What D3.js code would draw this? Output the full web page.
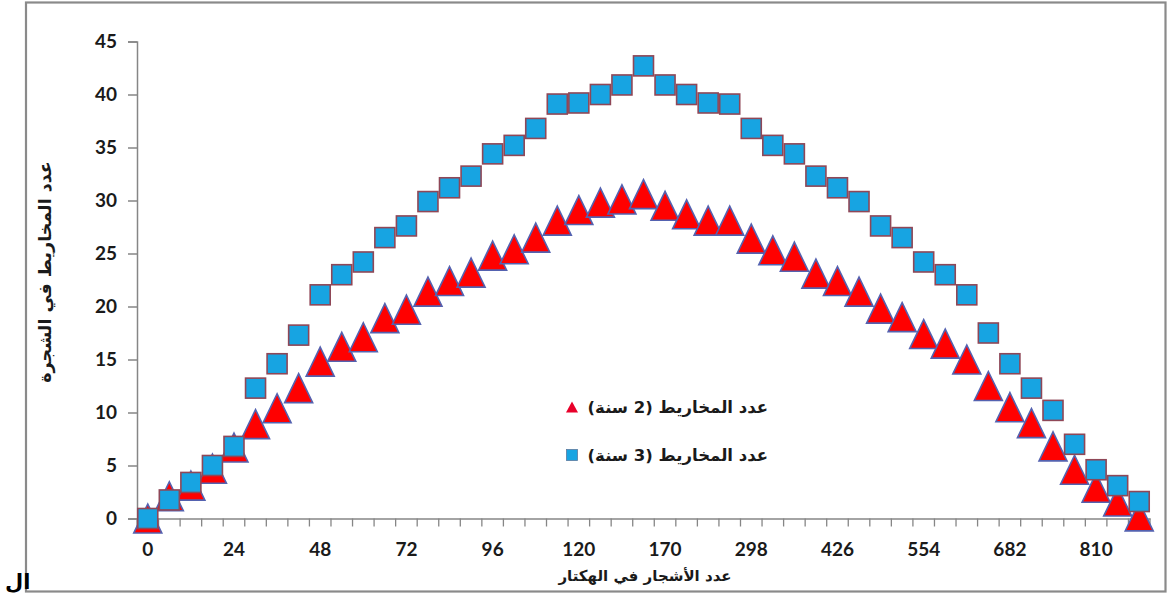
<!DOCTYPE html>
<html>
<head>
<meta charset="utf-8">
<script src="https://cdn.jsdelivr.net/npm/d3@7"></script>
<style>
  html, body { margin: 0; padding: 0; background: #fff; }
  svg { display: block; }
</style>
</head>
<body>
<svg id="chart" width="1169" height="599"></svg>
<script>
// ---- data ----
const categories = [0, 6, 12, 18, 24, 30, 36, 42, 48, 54, 60, 66, 72, 78, 84, 90, 96, 102, 108, 114, 120,
  132, 145, 157, 170, 202, 234, 266, 298, 330, 362, 394, 426, 458, 490, 522, 554, 586, 618, 650, 682,
  714, 746, 778, 810, 842, 874];
const shownLabels = [0, 24, 48, 72, 96, 120, 170, 298, 426, 554, 682, 810];
const cones2yr = [0, 2.1, 3.1, 4.7, 6.7, 8.9, 10.4, 12.3, 14.8, 16.2, 17.1, 18.9, 19.7, 21.4, 22.4, 23.2,
  24.8, 25.4, 26.5, 28.1, 29.1, 29.8, 30.1, 30.6, 29.5, 28.7, 28.1, 28.1, 26.4, 25.3, 24.7, 23.1, 22.4,
  21.4, 19.8, 19.0, 17.4, 16.5, 15.0, 12.5, 10.5, 9.0, 6.8, 4.6, 2.9, 1.6, 0.2];
const cones3yr = [0, 1.75, 3.4, 5.0, 6.8, 12.3, 14.6, 17.3, 21.1, 23.0, 24.2, 26.5, 27.6, 29.9, 31.2, 32.3,
  34.4, 35.2, 36.8, 39.1, 39.2, 40.0, 40.9, 42.7, 40.9, 40.0, 39.2, 39.1, 36.8, 35.2, 34.4, 32.3, 31.2,
  29.9, 27.6, 26.5, 24.2, 23.0, 21.1, 17.5, 14.6, 12.3, 10.2, 7.0, 4.6, 3.1, 1.6];
const yTicks = [0, 5, 10, 15, 20, 25, 30, 35, 40, 45];
const seriesNames = ["عدد المخاريط (2 سنة)", "عدد المخاريط (3 سنة)"];
const xTitle = "عدد الأشجار في الهكتار";
const yTitle = "عدد المخاريط في الشجرة";
const strayText = "ال";

// ---- layout ----
const svg = d3.select("#chart");
const plot = { left: 137, right: 1150, top: 41.5, bottom: 518.5 };
const x = d3.scaleBand().domain(categories).range([plot.left, plot.right]).padding(0);
const y = d3.scaleLinear().domain([0, 45]).range([plot.bottom, plot.top]);
const cx = c => x(c) + x.bandwidth() / 2;

const numFont = "Lato, 'Open Sans', sans-serif";
const arFont = "'DejaVu Sans', sans-serif";
const axisColor = "#868686";

// outer frame
svg.append("rect").attr("x", 26).attr("y", 2.5).attr("width", 1139.5).attr("height", 589)
  .attr("fill", "#fff").attr("stroke", "#8a8a8a").attr("stroke-width", 2.2);

// stray text outside frame
svg.append("text").attr("x", 5).attr("y", 589).attr("font-family", arFont)
  .attr("font-size", 21).attr("font-weight", "bold").attr("fill", "#000")
  .attr("text-anchor", "start").text(strayText);

// y axis
const yAxis = d3.axisLeft(y).tickValues(yTicks).tickSize(9).tickPadding(11);
const gy = svg.append("g").attr("transform", `translate(${plot.left},0)`).call(yAxis);
gy.select(".domain").attr("stroke", axisColor).attr("stroke-width", 1.5);
gy.selectAll(".tick line").attr("stroke", axisColor).attr("stroke-width", 1.5);
gy.selectAll(".tick text").attr("font-family", numFont).attr("font-weight", "bold")
  .attr("font-size", 19).attr("fill", "#1a1a1a");

// x axis: labels at band centres (every 4th), ticks at band boundaries
const xAxis = d3.axisBottom(x).tickValues(shownLabels).tickSize(0).tickPadding(24);
const gx = svg.append("g").attr("transform", `translate(0,${plot.bottom})`).call(xAxis);
gx.select(".domain").attr("stroke", axisColor).attr("stroke-width", 1.5);
gx.selectAll(".tick text").attr("font-family", numFont).attr("font-weight", "bold")
  .attr("font-size", 19).attr("fill", "#1a1a1a");
const bounds = categories.map(c => x(c)).concat([plot.right]);
svg.append("g").selectAll("line").data(bounds).join("line")
  .attr("x1", d => d).attr("x2", d => d)
  .attr("y1", plot.bottom).attr("y2", plot.bottom + 8)
  .attr("stroke", axisColor).attr("stroke-width", 1.3);

// axis titles
svg.append("text").attr("x", 645).attr("y", 581).attr("text-anchor", "middle")
  .attr("font-family", arFont).attr("font-weight", "bold").attr("font-size", 15)
  .attr("fill", "#1a1a1a").attr("direction", "rtl").text(xTitle);
svg.append("text").attr("transform", "translate(51,272) rotate(-90)").attr("text-anchor", "middle")
  .attr("font-family", arFont).attr("font-weight", "bold").attr("font-size", 17.5)
  .attr("fill", "#1a1a1a").attr("direction", "rtl").text(yTitle);

// markers
const triW = 28, triH = 29, sq = 20;
const triPath = (w, h) => `M0,${-h / 2}L${w / 2},${h / 2}L${-w / 2},${h / 2}Z`;

svg.append("g").selectAll("path").data(categories).join("path")
  .attr("d", triPath(triW, triH))
  .attr("transform", (c, i) => `translate(${cx(c)},${y(cones2yr[i])})`)
  .attr("fill", "#ff0000").attr("stroke", "#5462b0").attr("stroke-width", 1.6)
  .attr("stroke-linejoin", "miter");

svg.append("g").selectAll("rect").data(categories).join("rect")
  .attr("x", c => cx(c) - sq / 2)
  .attr("y", (c, i) => y(cones3yr[i]) - sq / 2)
  .attr("width", sq).attr("height", sq)
  .attr("fill", "#17a4e2").attr("stroke", "#8f4757").attr("stroke-width", 1.6);

// legend
const legend = svg.append("g");
const legendRows = [
  { name: seriesNames[0], cy: 407, type: "tri" },
  { name: seriesNames[1], cy: 455, type: "sq" }
];
legendRows.forEach(r => {
  if (r.type === "tri") {
    legend.append("path").attr("d", triPath(12, 11))
      .attr("transform", `translate(572,${r.cy})`).attr("fill", "#e8002a");
  } else {
    legend.append("rect").attr("x", 566.5).attr("y", r.cy - 5.5).attr("width", 11).attr("height", 11)
      .attr("fill", "#17a4e2").attr("stroke", "#5a7aa0").attr("stroke-width", 0.8);
  }
  legend.append("text").attr("x", 768).attr("y", r.cy + 6).attr("text-anchor", "start")
    .attr("direction", "rtl").attr("font-family", arFont).attr("font-weight", "bold")
    .attr("font-size", 16.5).attr("fill", "#1a1a1a").text(r.name);
});
</script>
</body>
</html>
